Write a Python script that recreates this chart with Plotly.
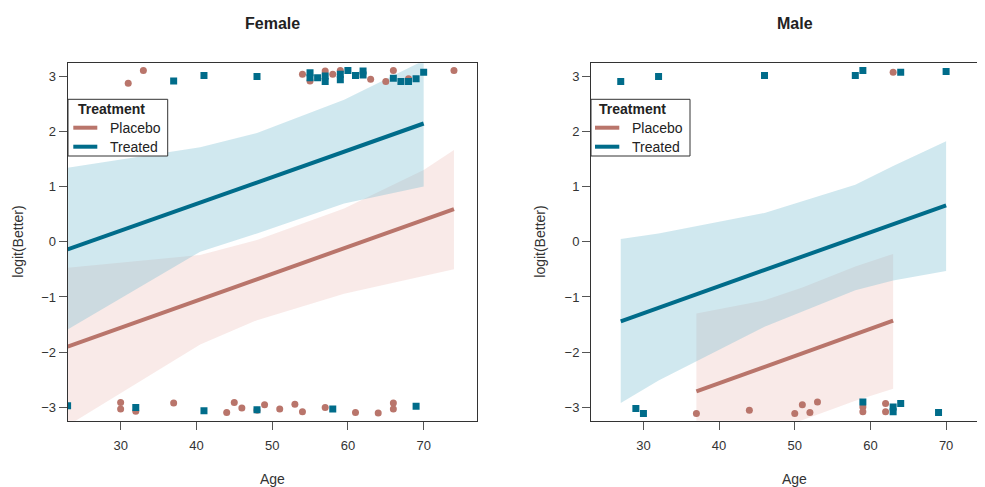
import plotly.graph_objects as go

# ---------------- data ----------------
# Female panel: jittered observations (Age, logit(Better))
f_plc_age = [31, 33, 54, 55, 57, 58, 59, 63, 65, 66, 68, 74,
             30, 30, 32, 37, 44, 45, 46, 48, 49, 51, 53, 54, 57, 61, 64, 66, 66]
f_plc_y = [2.87, 3.10, 3.03, 2.91, 3.09, 3.03, 3.10, 2.94, 2.90, 3.10, 2.95, 3.10,
           -2.91, -3.03, -3.07, -2.92, -3.09, -2.91, -3.01, -3.05, -2.95, -3.03, -2.94, -3.08, -3.00, -3.09, -3.10, -2.92, -3.03]
f_trt_age = [37, 41, 48, 55, 55, 56, 57, 57, 59, 59, 60, 61, 62, 62, 66, 67, 68, 69, 70,
             23, 32, 41, 48, 58, 69]
f_trt_y = [2.91, 3.01, 2.99, 3.06, 2.97, 2.97, 3.00, 2.90, 3.03, 2.93, 3.10, 3.01, 3.09, 3.02, 2.96, 2.90, 2.90, 2.95, 3.07,
           -2.97, -3.00, -3.06, -3.04, -3.03, -2.98]

# Male panel
m_plc_age = [63, 37, 44, 50, 51, 52, 53, 59, 59, 62, 62]
m_plc_y = [3.07, -3.11, -3.05, -3.11, -2.95, -3.09, -2.90, -2.99, -3.08, -2.93, -3.08]
m_trt_age = [27, 32, 46, 58, 59, 64, 70, 29, 30, 59, 63, 63, 64, 69]
m_trt_y = [2.90, 2.99, 3.01, 3.01, 3.10, 3.07, 3.08, -3.02, -3.11, -2.90, -2.99, -3.08, -2.93, -3.09]

# Fitted lines
f_plc_fit_age = [23, 74]
f_plc_fit = [-1.90, 0.59]
f_trt_fit_age = [23, 70]
f_trt_fit = [-0.14, 2.14]
m_plc_fit_age = [37, 63]
m_plc_fit = [-2.71, -1.43]
m_trt_fit_age = [27, 70]
m_trt_fit = [-1.44, 0.66]

# Confidence bands
f_plc_band_age = [23, 40.5, 48, 59.5, 70, 74]
f_plc_upper = [-0.47, -0.24, 0.03, 0.60, 1.30, 1.66]
f_plc_lower = [-3.33, -1.86, -1.42, -0.94, -0.62, -0.50]
f_trt_band_age = [23, 40.5, 48, 59.5, 70]
f_trt_upper = [1.34, 1.71, 1.97, 2.57, 3.28]
f_trt_lower = [-1.59, -0.18, 0.15, 0.69, 1.00]
m_plc_band_age = [37, 46, 51, 58, 63]
m_plc_upper = [-1.30, -1.06, -0.83, -0.45, -0.22]
m_plc_lower = [-4.12, -3.48, -3.23, -2.88, -2.66]
m_trt_band_age = [27, 32, 46, 58, 63, 70]
m_trt_upper = [0.05, 0.15, 0.52, 1.03, 1.37, 1.82]
m_trt_lower = [-2.92, -2.51, -1.54, -0.88, -0.70, -0.53]

groups = ["Placebo", "Treated"]
panels = ["Female", "Male"]
legend_title = "Treatment"
x_ticks = [30, 40, 50, 60, 70]
y_ticks = [-3, -2, -1, 0, 1, 2, 3]
y_tick_text = ["\u22123", "\u22122", "\u22121", "0", "1", "2", "3"]

# ---------------- style ----------------
C_PLC = "rgb(185,117,107)"
C_TRT = "rgb(0,108,138)"
F_PLC = "rgba(236,190,185,0.32)"
F_TRT = "rgba(120,190,210,0.35)"
FONT = "Liberation Sans, Arial, Helvetica, sans-serif"
OFF = 8                      # page body margin
W, H = 985 - OFF, 487 - OFF


def px(p):
    return (p - OFF) / W


def py(p):
    return 1 - (p - OFF) / H


fig = go.Figure()


def band(xs, up, lo, color, xa, ya):
    fig.add_trace(go.Scatter(
        x=list(xs) + list(xs)[::-1], y=list(up) + list(lo)[::-1],
        fill="toself", fillcolor=color, mode="lines", line=dict(width=0),
        hoverinfo="skip", showlegend=False, xaxis=xa, yaxis=ya))


def line(xs, ys, color, name, xa, ya):
    fig.add_trace(go.Scatter(x=xs, y=ys, mode="lines", name=name,
                             line=dict(color=color, width=4),
                             showlegend=False, xaxis=xa, yaxis=ya))


def pts(xs, ys, color, symbol, name, xa, ya):
    fig.add_trace(go.Scatter(x=xs, y=ys, mode="markers", name=name,
                             marker=dict(color=color, symbol=symbol, size=7, line=dict(width=0)),
                             showlegend=False, xaxis=xa, yaxis=ya))


# Female
band(f_plc_band_age, f_plc_upper, f_plc_lower, F_PLC, "x", "y")
band(f_trt_band_age, f_trt_upper, f_trt_lower, F_TRT, "x", "y")
line(f_plc_fit_age, f_plc_fit, C_PLC, groups[0], "x", "y")
line(f_trt_fit_age, f_trt_fit, C_TRT, groups[1], "x", "y")
pts(f_plc_age, f_plc_y, C_PLC, "circle", groups[0], "x", "y")
pts(f_trt_age, f_trt_y, C_TRT, "square", groups[1], "x", "y")
# Male
band(m_plc_band_age, m_plc_upper, m_plc_lower, F_PLC, "x2", "y2")
band(m_trt_band_age, m_trt_upper, m_trt_lower, F_TRT, "x2", "y2")
line(m_plc_fit_age, m_plc_fit, C_PLC, groups[0], "x2", "y2")
line(m_trt_fit_age, m_trt_fit, C_TRT, groups[1], "x2", "y2")
pts(m_plc_age, m_plc_y, C_PLC, "circle", groups[0], "x2", "y2")
pts(m_trt_age, m_trt_y, C_TRT, "square", groups[1], "x2", "y2")

ydom = [py(420.7), py(63.3)]
axis_common = dict(showgrid=False, zeroline=False, showline=True, linecolor="#333333",
                   linewidth=1, ticks="outside", tickcolor="#555555", ticklen=8,
                   tickfont=dict(size=13, color="#333333", family=FONT))

fig.update_layout(
    width=W, height=H, autosize=False, showlegend=False,
    margin=dict(l=0, r=0, t=0, b=0),
    paper_bgcolor="white", plot_bgcolor="white",
    font=dict(family=FONT, color="#333333"),
    xaxis=dict(domain=[px(67.6), px(476.7)], range=[23, 77], tickvals=x_ticks,
               mirror=True, anchor="y", ticklabelstandoff=5, **axis_common),
    yaxis=dict(domain=ydom, range=[-3.24, 3.23], tickvals=y_ticks, ticktext=y_tick_text,
               mirror=True, anchor="x", ticklabelstandoff=0, **axis_common),
    xaxis2=dict(domain=[px(591), 1.0], range=[23.07, 75.14], tickvals=x_ticks,
                mirror=True, anchor="y2", ticklabelstandoff=5, **axis_common),
    yaxis2=dict(domain=ydom, range=[-3.24, 3.23], tickvals=y_ticks, ticktext=y_tick_text,
                mirror=False, anchor="x2", ticklabelstandoff=0, **axis_common),
)

# ---- legends drawn inside each panel (box, key lines, labels) ----
shapes = []
ann = []
# (box left, box right, title x, key x0, key x1, label x)
legend_boxes = [(68, 167.7, 75.5, 73.3, 97.3, 108.3),
                (591, 690, 597.3, 595, 619.3, 630)]
for (bl, br, tx, k0, k1, lx) in legend_boxes:
    shapes.append(dict(type="rect", xref="paper", yref="paper", layer="above",
                       x0=px(bl), x1=px(br), y0=py(156), y1=py(99.3),
                       fillcolor="white", line=dict(color="#333333", width=1)))
    ann.append(dict(text="<b>" + legend_title + "</b>", x=px(tx), xref="paper", xanchor="left",
                    y=py(109.3), yref="paper", yanchor="middle", showarrow=False,
                    font=dict(size=14, color="#222222")))
    for g, c, yy in zip(groups, [C_PLC, C_TRT], [127.7, 146.7]):
        shapes.append(dict(type="line", xref="paper", yref="paper", layer="above",
                           x0=px(k0), x1=px(k1), y0=py(yy), y1=py(yy),
                           line=dict(color=c, width=4)))
        ann.append(dict(text=g, x=px(lx), xref="paper", xanchor="left",
                        y=py(yy), yref="paper", yanchor="middle", showarrow=False,
                        font=dict(size=14, color="#222222")))

# titles and axis labels
ann += [
    dict(text="<b>" + panels[0] + "</b>", x=50, xref="x", y=py(24), yref="paper", yanchor="middle",
         showarrow=False, font=dict(size=16, color="#222222")),
    dict(text="<b>" + panels[1] + "</b>", x=50, xref="x2", y=py(24), yref="paper", yanchor="middle",
         showarrow=False, font=dict(size=16, color="#222222")),
    dict(text="Age", x=50, xref="x", y=py(479), yref="paper", yanchor="middle",
         showarrow=False, font=dict(size=14, color="#333333")),
    dict(text="Age", x=50, xref="x2", y=py(479), yref="paper", yanchor="middle",
         showarrow=False, font=dict(size=14, color="#333333")),
    dict(text="logit(Better)", x=px(18), xref="paper", xanchor="center", y=0, yref="y",
         yanchor="middle", textangle=-90, showarrow=False, font=dict(size=14, color="#333333")),
    dict(text="logit(Better)", x=px(540), xref="paper", xanchor="center", y=0, yref="y2",
         yanchor="middle", textangle=-90, showarrow=False, font=dict(size=14, color="#333333")),
]
fig.update_layout(annotations=ann, shapes=shapes)

fig.write_html("out.html")
